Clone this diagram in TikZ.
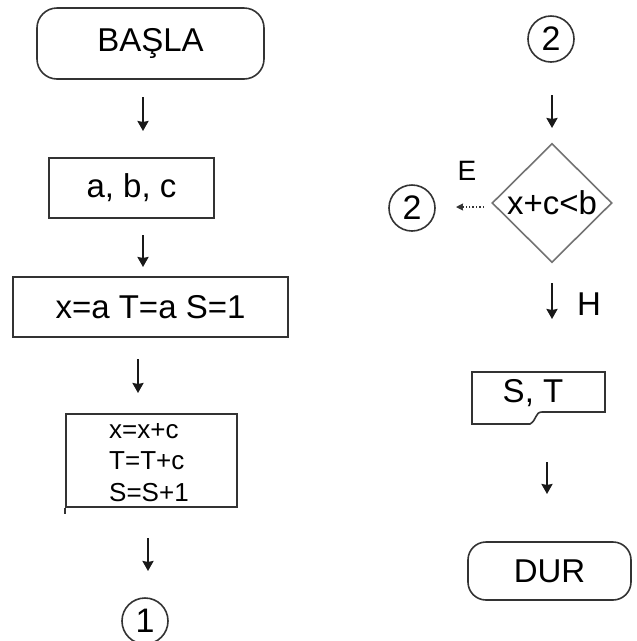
\documentclass[tikz,border=0pt]{standalone}
\usepackage{fontspec}
\setmainfont{Liberation Sans}
\usetikzlibrary{arrows.meta,shapes.geometric}
\newcommand\fbig{\fontsize{33}{38}\selectfont}
\newcommand\fdig{\fontsize{34}{38}\selectfont}
\newcommand\fmid{\fontsize{26}{30}\selectfont}
\begin{document}
\begin{tikzpicture}[x=1pt,y=-1pt,
  boxline/.style={draw=black!80, line width=1.6pt},
  term/.style={boxline, rounded corners=20pt, inner sep=0pt, font=\fbig},
  proc/.style={boxline, inner sep=0pt, font=\fbig},
  conn/.style={boxline, circle, inner sep=0pt, minimum size=46pt, font=\fdig},
  dec/.style={draw=black!55, line width=1.6pt, diamond, aspect=1, inner sep=0pt, font=\fbig},
  flow/.style={line width=2.6pt, draw=black!90, -{Stealth[length=10pt,width=11pt,inset=1pt]}},
  dotflow/.style={line width=1.4pt, draw=black!80, dotted, -{Stealth[length=7pt,width=7pt,inset=0.5pt]}},
  lbl/.style={inner sep=0pt, text=black}
]
\useasboundingbox (0,0) rectangle (637,641);
% left column
\node[term, minimum width=227pt, minimum height=71pt] (start) at (150.5,43.5) {BAŞLA};
\node[proc, minimum width=165pt, minimum height=60pt] (input) at (131.5,188) {a, b, c};
\node[proc, minimum width=275pt, minimum height=60pt] (init) at (150.5,307) {x=a T=a S=1};
\node[proc, minimum width=171pt, minimum height=93pt] (loop) at (151.5,460.5) {};
\node[lbl, font=\fmid, anchor=base west] (l1) at (109,438) {x=x+c};
\node[lbl, font=\fmid, anchor=base west] (l2) at (109,469) {T=T+c};
\node[lbl, font=\fmid, anchor=base west] (l3) at (109,501) {S=S+1};
\draw[boxline] (loop.south west) -- ++(0,6);
\node[conn] (c1) at (145,621) {1};

\coordinate (a1s) at (143,97);  \coordinate (a1e) at (143,131);
\coordinate (a2s) at (143,235); \coordinate (a2e) at (143,267);
\coordinate (a3s) at (138,359); \coordinate (a3e) at (138,393);
\coordinate (a4s) at (148,538); \coordinate (a4e) at (148,571);
\draw[flow] (a1s) -- (a1e);
\draw[flow] (a2s) -- (a2e);
\draw[flow] (a3s) -- (a3e);
\draw[flow] (a4s) -- (a4e);

% right column
\node[conn] (c2top) at (551,39) {2};
\node[dec, minimum width=120pt, minimum height=119pt] (cond) at (552,203) {x+c<b};
\node[conn] (c2left) at (412,208) {2};
\node[lbl, font=\fontsize{28}{32}\selectfont] (e) at (467,171) {E};
\node[lbl, font=\fbig] (h) at (589,304) {H};
\coordinate (d1s) at (484,207); \coordinate (d1e) at (456,207);
\draw[dotflow] (d1s) -- (d1e);

\coordinate (r1s) at (552,95);  \coordinate (r1e) at (552,128);
\coordinate (r2s) at (552,283); \coordinate (r2e) at (552,319);
\coordinate (r3s) at (547,462); \coordinate (r3e) at (547,494);
\draw[flow] (r1s) -- (r1e);
\draw[flow] (r2s) -- (r2e);
\draw[flow] (r3s) -- (r3e);

\node[lbl, font=\fbig] (out) at (533,393) {S, T};
\draw[boxline, line join=miter] (472,372) -- (605,372) -- (605,412) -- (542,412)
  .. controls (535,412) and (537,420) .. (530,424) -- (472,424) -- cycle;

\node[term, rounded corners=18pt, minimum width=163pt, minimum height=58pt] (stop) at (549.5,571) {DUR};
\end{tikzpicture}
\end{document}
